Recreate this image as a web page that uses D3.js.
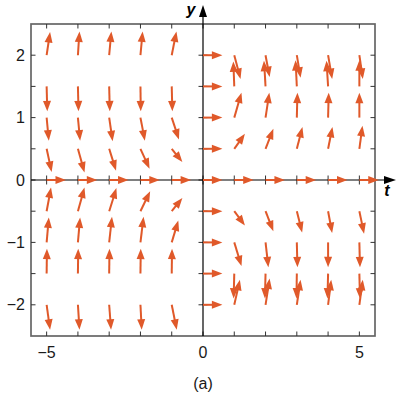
<!DOCTYPE html>
<html><head><meta charset="utf-8">
<script src="https://cdn.jsdelivr.net/npm/d3@7"></script>
<style>body{margin:0;background:#fff}svg{display:block}text{font-family:"Liberation Sans",Arial,sans-serif}</style>
</head><body><svg id="c" width="405" height="396"></svg>
<script>
// grid of slope-field sample points
const tValues = [-5,-4,-3,-2,-1,0,1,2,3,4,5];
const yValues = [2,1.5,1,0.5,0,-0.5,-1,-1.5,-2];
// arrow components (data units), rows follow yValues, columns follow tValues
const arrowDT = [
  [0.11,0.05,0.07,0.07,0.15,0.62,0.20,0.13,0.12,0.13,0.11],
  [0.02,0.02,0.02,0.01,0.02,0.62,-0.03,-0.05,-0.04,-0.05,0.00],
  [0.07,0.07,0.11,0.14,0.23,0.62,0.23,0.12,0.02,0.02,0.00],
  [0.16,0.21,0.22,0.29,0.34,0.62,0.34,0.25,0.18,0.14,0.10],
  [0.62,0.62,0.62,0.62,0.62,0.62,0.62,0.62,0.62,0.62,0.62],
  [0.14,0.21,0.23,0.31,0.34,0.62,0.34,0.25,0.17,0.13,0.15],
  [0.07,0.07,0.09,0.10,0.21,0.62,0.23,0.09,0.02,0.00,0.02],
  [0.01,0.01,0.01,0.01,0.01,0.62,-0.02,-0.02,-0.01,-0.02,0.02],
  [0.11,0.05,0.06,0.04,0.16,0.62,0.18,0.13,0.12,0.10,0.11]
];
const arrowDY = [
  [0.37,0.38,0.38,0.38,0.38,0,-0.38,-0.35,-0.36,-0.38,-0.38],
  [-0.40,-0.40,-0.40,-0.40,-0.40,0,0.40,0.41,0.42,0.41,0.42],
  [-0.37,-0.37,-0.38,-0.37,-0.35,0,0.40,0.40,0.40,0.40,0.40],
  [-0.37,-0.38,-0.35,-0.32,-0.21,0,0.24,0.32,0.35,0.35,0.37],
  [0,0,0,0,0,0,0,0,0,0,0],
  [0.38,0.38,0.37,0.32,0.21,0,-0.23,-0.32,-0.34,-0.35,-0.36],
  [0.40,0.40,0.41,0.41,0.35,0,-0.38,-0.40,-0.40,-0.40,-0.40],
  [0.40,0.40,0.40,0.40,0.40,0,-0.40,-0.40,-0.40,-0.40,-0.40],
  [-0.40,-0.40,-0.40,-0.40,-0.40,0,0.40,0.42,0.40,0.40,0.40]
];
const xTickValues = [-5,-4,-3,-2,-1,0,1,2,3,4,5];
const xTickLabels = [-5,0,5];
const yTickValues = [-2,-1.5,-1,-0.5,0,0.5,1,1.5,2];
const yTickLabels = [-2,-1,0,1,2];

const svg = d3.select("#c");
const L=31, R=375, T=24, B=336;
const x = d3.scaleLinear().domain([-5.5,5.5]).range([L,R]);
const y = d3.scaleLinear().domain([-2.5,2.5]).range([B,T]);
const orange = "#e0592a";
const fmt = v => v<0 ? "\u2212"+Math.abs(v) : String(v);

// frame
svg.append("rect").attr("x",L).attr("y",T).attr("width",R-L).attr("height",B-T)
  .attr("fill","none").attr("stroke","#666").attr("stroke-width",1.7);

const tk = 4.5;
const g = svg.append("g").attr("stroke","#333").attr("stroke-width",1);
xTickValues.forEach(v=>{
  g.append("line").attr("x1",x(v)).attr("x2",x(v)).attr("y1",B).attr("y2",B-tk);
  g.append("line").attr("x1",x(v)).attr("x2",x(v)).attr("y1",T).attr("y2",T+tk);
  g.append("line").attr("x1",x(v)).attr("x2",x(v)).attr("y1",y(0)-tk).attr("y2",y(0)+tk);
});
yTickValues.forEach(v=>{
  g.append("line").attr("y1",y(v)).attr("y2",y(v)).attr("x1",L).attr("x2",L+tk);
  g.append("line").attr("y1",y(v)).attr("y2",y(v)).attr("x1",R).attr("x2",R-tk);
  g.append("line").attr("y1",y(v)).attr("y2",y(v)).attr("x1",x(0)-tk).attr("x2",x(0)+tk);
});

// axes
svg.append("line").attr("x1",L).attr("x2",388).attr("y1",y(0)).attr("y2",y(0)).attr("stroke","#000").attr("stroke-width",1.2);
svg.append("path").attr("d",`M396,${y(0)} L384,${y(0)-4} L384,${y(0)+4} Z`).attr("fill","#000");
svg.append("line").attr("y1",B).attr("y2",14).attr("x1",x(0)).attr("x2",x(0)).attr("stroke","#000").attr("stroke-width",1.2);
svg.append("path").attr("d",`M${x(0)},5 L${x(0)-4},17 L${x(0)+4},17 Z`).attr("fill","#000");

svg.append("text").attr("x",191).attr("y",15).attr("text-anchor","middle")
  .attr("font-size",16).attr("font-weight","bold").attr("font-style","italic").text("y");
svg.append("text").attr("x",387).attr("y",196).attr("text-anchor","middle")
  .attr("font-size",16).attr("font-weight","bold").attr("font-style","italic").text("t");

// tick labels
xTickLabels.forEach(v=>{
  svg.append("text").attr("x",x(v)).attr("y",358).attr("text-anchor","middle")
    .attr("font-size",16).attr("fill","#1a1a1a").text(fmt(v));
});
yTickLabels.forEach(v=>{
  svg.append("text").attr("x",25).attr("y",y(v)+5.5).attr("text-anchor","end")
    .attr("font-size",16).attr("fill","#1a1a1a").text(fmt(v));
});
svg.append("text").attr("x",x(0)).attr("y",389).attr("text-anchor","middle")
  .attr("font-size",16).attr("fill","#1a1a1a").text("(a)");

// arrows
const arrows = [];
yValues.forEach((yv,i)=>tValues.forEach((tv,j)=>{
  arrows.push({t:tv, y:yv, dt:arrowDT[i][j], dy:arrowDY[i][j]});
}));
const ag = svg.append("g");
const headLen = 10.5, headHalf = 4;
arrows.forEach(a=>{
  const x0=x(a.t), y0=y(a.y), x1=x(a.t+a.dt), y1=y(a.y+a.dy);
  const dx=x1-x0, dy=y1-y0, len=Math.hypot(dx,dy);
  const ux=dx/len, uy=dy/len;
  const bx=x1-ux*headLen, by=y1-uy*headLen;
  ag.append("line").attr("x1",x0).attr("y1",y0).attr("x2",bx+ux*1).attr("y2",by+uy*1)
    .attr("stroke",orange).attr("stroke-width",2);
  ag.append("path").attr("d",`M${x1},${y1} L${bx-uy*headHalf},${by+ux*headHalf} L${bx+uy*headHalf},${by-ux*headHalf} Z`)
    .attr("fill",orange);
});
</script></body></html>
